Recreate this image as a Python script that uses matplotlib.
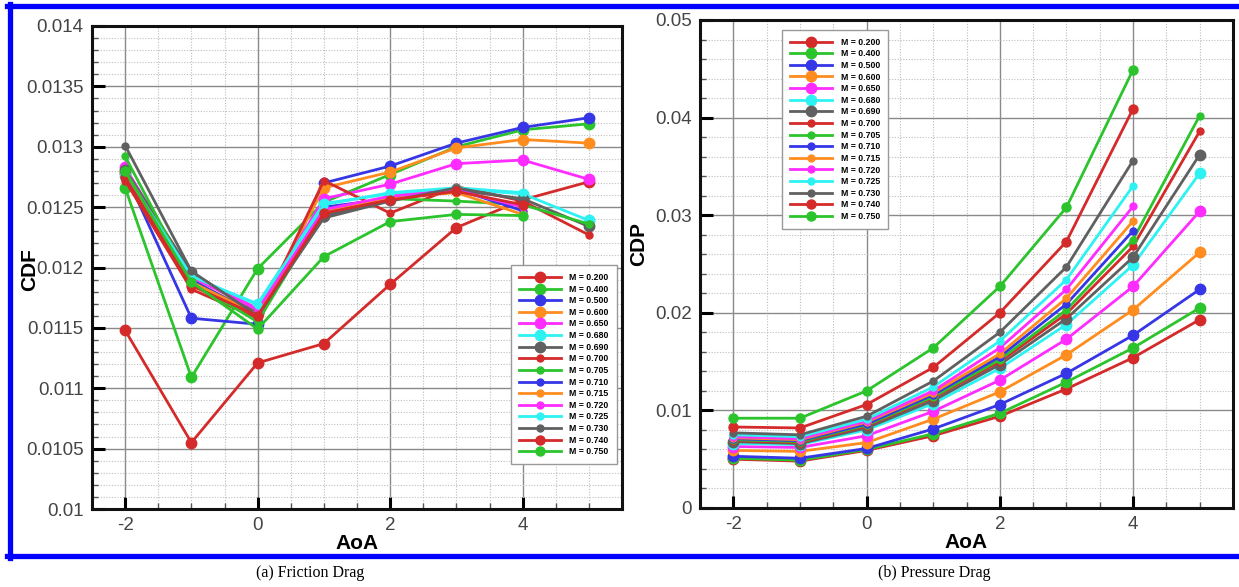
import numpy as np
import matplotlib
matplotlib.use("Agg")
import matplotlib.pyplot as plt
from matplotlib.lines import Line2D
from matplotlib.ticker import MultipleLocator

plt.rcParams["font.family"] = ["Liberation Sans", "DejaVu Sans"]
plt.rcParams["axes.unicode_minus"] = False

# angle of attack
aoa = [-2, -1, 0, 1, 2, 3, 4, 5]

mach_labels = ["M = 0.200", "M = 0.400", "M = 0.500", "M = 0.600", "M = 0.650",
               "M = 0.680", "M = 0.690", "M = 0.700", "M = 0.705", "M = 0.710",
               "M = 0.715", "M = 0.720", "M = 0.725", "M = 0.730", "M = 0.740",
               "M = 0.750"]

# friction drag coefficient (M >= 0.710 stop at AoA 4)
cdf = [
    [0.01148, 0.01055, 0.01121, 0.01137, 0.01186, 0.01233, 0.01256, 0.01271],
    [0.01266, 0.01109, 0.01199, 0.01254, 0.01277, 0.01300, 0.01314, 0.01319],
    [0.01278, 0.01158, 0.01153, 0.01270, 0.01284, 0.01303, 0.01316, 0.01324],
    [0.01280, 0.01189, 0.01162, 0.01266, 0.01279, 0.01299, 0.01306, 0.01303],
    [0.01283, 0.01193, 0.01166, 0.01257, 0.01269, 0.01286, 0.01289, 0.01273],
    [0.01276, 0.01192, 0.01170, 0.01253, 0.01261, 0.01265, 0.01261, 0.01239],
    [0.01281, 0.01196, 0.01162, 0.01243, 0.01256, 0.01264, 0.01257, 0.01234],
    [0.01272, 0.01182, 0.01158, 0.01272, 0.01245, 0.01267, 0.01255, 0.01227],
    [0.01292, 0.01188, 0.01155, 0.01246, 0.01257, 0.01255, 0.01252, 0.01236],
    [0.01275, 0.01190, 0.01160, 0.01250, 0.01257, 0.01265, 0.01247],
    [0.01277, 0.01188, 0.01161, 0.01247, 0.01258, 0.01262, 0.01244],
    [0.01279, 0.01192, 0.01165, 0.01248, 0.01259, 0.01264, 0.01250],
    [0.01278, 0.01193, 0.01169, 0.01252, 0.01262, 0.01266, 0.01262],
    [0.01301, 0.01197, 0.01160, 0.01241, 0.01255, 0.01266, 0.01256],
    [0.01275, 0.01185, 0.01160, 0.01245, 0.01256, 0.01263, 0.01252],
    [0.01280, 0.01188, 0.01149, 0.01209, 0.01238, 0.01244, 0.01243],
]

# pressure drag coefficient
cdp = [
    [0.0050, 0.0048, 0.0059, 0.0074, 0.0094, 0.0122, 0.0154, 0.0193],
    [0.0051, 0.0049, 0.0060, 0.0076, 0.0097, 0.0129, 0.0164, 0.0205],
    [0.0053, 0.0051, 0.0061, 0.0081, 0.0106, 0.0138, 0.0177, 0.0224],
    [0.0059, 0.0058, 0.0067, 0.0091, 0.0119, 0.0157, 0.0203, 0.0262],
    [0.0063, 0.0062, 0.0074, 0.0099, 0.0131, 0.0173, 0.0227, 0.0304],
    [0.0066, 0.0065, 0.0080, 0.0107, 0.0143, 0.0188, 0.0249, 0.0343],
    [0.0068, 0.0066, 0.0082, 0.0110, 0.0147, 0.0194, 0.0257, 0.0362],
    [0.0069, 0.0067, 0.0084, 0.0113, 0.0150, 0.0199, 0.0268, 0.0386],
    [0.0070, 0.0068, 0.0085, 0.0114, 0.0152, 0.0203, 0.0275, 0.0402],
    [0.0071, 0.0069, 0.0086, 0.0116, 0.0155, 0.0209, 0.0284],
    [0.0072, 0.0070, 0.0088, 0.0118, 0.0158, 0.0215, 0.0294],
    [0.0073, 0.0071, 0.0089, 0.0120, 0.0164, 0.0224, 0.0309],
    [0.0075, 0.0073, 0.0091, 0.0124, 0.0171, 0.0234, 0.0330],
    [0.0077, 0.0075, 0.0094, 0.0130, 0.0180, 0.0247, 0.0356],
    [0.0083, 0.0082, 0.0106, 0.0144, 0.0200, 0.0273, 0.0409],
    [0.0092, 0.0092, 0.0120, 0.0164, 0.0227, 0.0308, 0.0449],
]

colors = ["#d42a2a", "#2cc42c", "#3636e6", "#ff8c1e", "#ff2cff", "#2ef2f2",
          "#606060", "#d42a2a", "#2cc42c", "#3636e6", "#ff8c1e", "#ff2cff",
          "#2ef2f2", "#606060", "#d42a2a", "#2cc42c"]
msizes = [7.5, 7.5, 7.5, 7.5, 7.5, 7.5, 7.5, 5, 5, 5, 5, 5, 5, 5, 6.5, 6.5]


def style_axes(ax, ylim, ymajor, yminor, ylabel, yfmt, label_xy):
    ax.set_xlim(-2.5, 5.5)
    ax.set_ylim(*ylim)
    ax.xaxis.set_major_locator(MultipleLocator(2))
    ax.xaxis.set_minor_locator(MultipleLocator(0.5))
    ax.yaxis.set_major_locator(MultipleLocator(ymajor))
    ax.yaxis.set_minor_locator(MultipleLocator(yminor))
    ax.set_yticks(ax.get_yticks())
    ax.set_yticklabels([yfmt(v) for v in ax.get_yticks()])
    ax.set_ylim(*ylim)
    ax.grid(True, which="major", color="#8a8a8a", lw=1.0, zorder=0)
    ax.grid(True, which="minor", color="#bdbdbd", lw=0.8, ls=(0, (1, 1.5)), zorder=0)
    ax.set_axisbelow(True)
    ax.tick_params(which="major", direction="in", length=9, width=2.2,
                   labelsize=13.5, labelcolor="#444444", pad=6)
    ax.tick_params(which="minor", direction="in", length=4, width=1, color="#555555")
    for s in ax.spines.values():
        s.set_linewidth(2.2)
        s.set_color("#111111")
    ax.set_xlabel("AoA", fontsize=15, fontweight="bold", labelpad=0)
    ax.set_ylabel(ylabel, fontsize=15, fontweight="bold")
    ax.yaxis.set_label_coords(*label_xy)


def draw(ax, data):
    for i, ys in enumerate(data):
        ax.plot(aoa[:len(ys)], ys, "-o", color=colors[i], lw=2,
                ms=msizes[i], mfc=colors[i], mec=colors[i], label=mach_labels[i],
                zorder=3)


def add_legend(ax, loc, anchor):
    ax.legend(loc=loc, bbox_to_anchor=anchor, borderaxespad=0,
              prop={"weight": "bold", "size": 6.3}, handlelength=4.8,
              labelspacing=0.3, fancybox=False, edgecolor="#999999", framealpha=1,
              borderpad=0.9, handletextpad=1.0)


fig = plt.figure(figsize=(12.39, 5.87), dpi=100)

ax1 = fig.add_axes([92 / 1239, 78 / 587, 530 / 1239, 483 / 587])
draw(ax1, cdf)
style_axes(ax1, (0.01, 0.014), 0.0005, 0.0001, "CDF",
           lambda v: ("%.4f" % v).rstrip("0").rstrip("."), (-0.1, 0.495))
add_legend(ax1, "upper right", (0.99, 0.505))

ax2 = fig.add_axes([700 / 1239, 79 / 587, 533 / 1239, 488 / 587])
draw(ax2, cdp)
style_axes(ax2, (0, 0.05), 0.01, 0.002, "CDP",
           lambda v: "0" if abs(v) < 1e-12 else ("%.2f" % v).rstrip("0").rstrip("."),
           (-0.097, 0.54))
add_legend(ax2, "upper left", (0.154, 0.98))

# blue frame around the panels
W, H = 1239.0, 587.0
blue = "#0000ff"
fig.add_artist(Line2D([7 / W, 1], [1 - 6 / H, 1 - 6 / H], color=blue, lw=3.8))
fig.add_artist(Line2D([7 / W, 1], [1 - 555.5 / H, 1 - 555.5 / H], color=blue, lw=3.8))
fig.add_artist(Line2D([9.5 / W, 9.5 / W], [1 - 4 / H, 1 - 558 / H], color=blue, lw=3.8))

fig.text(310 / W, 1 - 573 / H, "(a) Friction Drag", ha="center", va="center",
         family=["Liberation Serif", "DejaVu Serif"], fontsize=11.5)
fig.text(934 / W, 1 - 573 / H, "(b) Pressure Drag", ha="center", va="center",
         family=["Liberation Serif", "DejaVu Serif"], fontsize=11.5)

fig.savefig("out.png", dpi=100)
